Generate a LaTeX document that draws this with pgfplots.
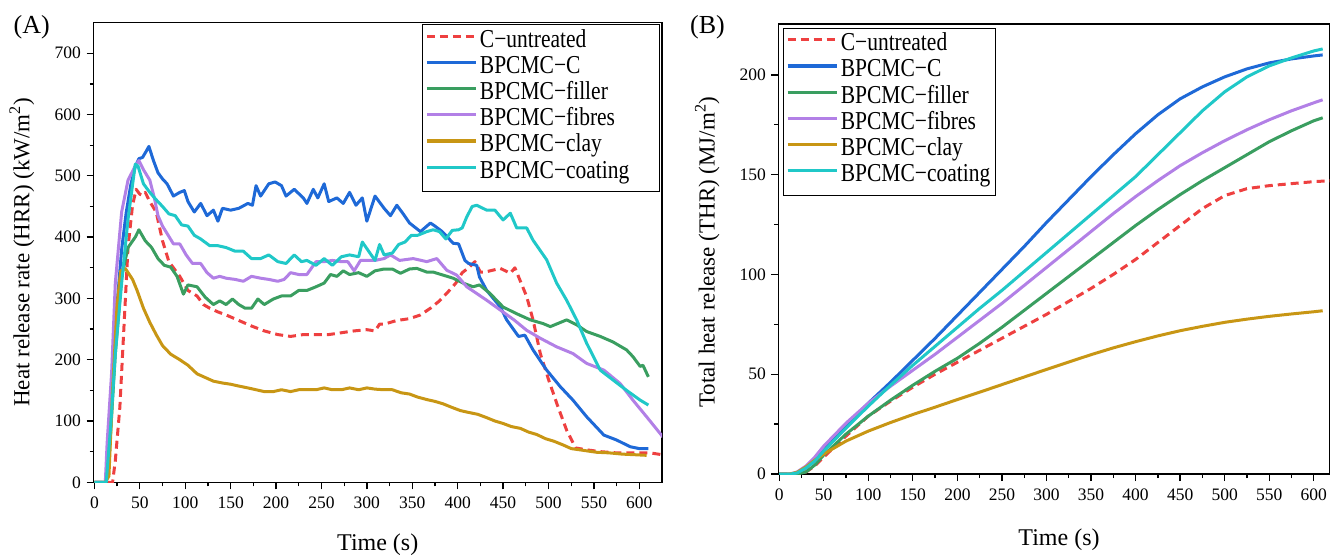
\documentclass[border=0pt]{standalone}
\usepackage{fontspec}
\setmainfont{Liberation Serif}
\usepackage{graphicx}
\usepackage{pgfplots}
\pgfplotsset{compat=1.18}

\definecolor{cRed}{RGB}{238,64,64}
\definecolor{cBlue}{RGB}{30,105,215}
\definecolor{cGreen}{RGB}{58,158,96}
\definecolor{cPurple}{RGB}{178,128,230}
\definecolor{cGold}{RGB}{200,150,20}
\definecolor{cCyan}{RGB}{32,200,200}

\newcommand\vs[1]{\scalebox{1}[1.2]{#1}}

\pgfplotsset{
  common/.style={
    scale only axis,
    axis line style={line width=1.6pt},
    tick style={line width=1.3pt, black},
    tick align=outside, xtick pos=bottom, ytick pos=left,
    major tick length=7pt, minor tick length=4pt,
    minor x tick num=1, minor y tick num=1,
    tick label style={font=\fontsize{17.5}{20}\selectfont},
    /pgf/number format/assume math mode=true,
    xtick={0,50,...,600},
    xticklabel style={yshift=-4pt},
    yticklabel style={xshift=-2pt},
    every axis plot/.append style={line width=3pt, line join=round, no marks},
    legend style={draw=black, line width=1.2pt, inner xsep=2.5pt, inner ysep=5pt,
      font=\fontsize{21.5}{24}\selectfont,
      nodes={inner ysep=0pt, inner xsep=2.5pt, text height=17.5pt, text depth=8.7pt},
      row sep=0pt},
    legend cell align=left,
    legend image code/.code={\draw[##1, line width=3.2pt] (0pt,6.5pt) -- (49pt,6.5pt);},
  },
  pred/.style={color=cRed, dash pattern=on 8pt off 5pt},
  pblue/.style={color=cBlue},
  pgreen/.style={color=cGreen},
  ppurple/.style={color=cPurple},
  pgold/.style={color=cGold},
  pcyan/.style={color=cCyan},
}

\begin{document}
\begin{tikzpicture}
\useasboundingbox (0,0) rectangle (1330pt,555pt);

\node[font=\fontsize{26}{30}\selectfont] at (31.7pt,528pt) {(A)};
\node[font=\fontsize{26}{30}\selectfont] at (707.5pt,528pt) {(B)};

% ---------------- Panel A ----------------
\begin{axis}[common,
  at={(93.5pt,72.7pt)}, anchor=south west,
  width=568.5pt, height=459.7pt,
  xmin=-1, xmax=625, ymin=0, ymax=750,
  ytick={0,100,...,700},
  xlabel={Time (s)},
  ylabel={Heat release rate (HRR) (kW/m\textsuperscript{2})},
  xlabel style={at={(axis description cs:0.5,-0.135)}, anchor=center, font=\fontsize{24}{28}\selectfont},
  ylabel style={at={(axis description cs:-0.126,0.5)}, anchor=center, font=\fontsize{23}{27}\selectfont},
  legend style={at={(axis description cs:0.9965,0.997)}, anchor=north east},
]
\addplot[pred] coordinates {(0,0)(20,0)(23,35)(28,122)(33,267)(37,383)(42,452)(46,478)(50,470)(53,468)(56,473)(61,458)(68,441)(75,394)(82,360)(94,336)(103,313)(113,304)(120,290)(127,284)(136,278)(145,273)(159,264)(173,255)(187,247)(202,241)(216,238)(230,241)(244,241)(258,241)(272,244)(286,247)(300,249)(309,247)(314,258)(319,258)(333,264)(347,267)(359,273)(370,284)(380,296)(389,310)(398,325)(405,342)(412,350)(419,360)(425,343)(430,343)(447,349)(458,341)(463,350)(476,303)(483,265)(491,210)(500,168)(510,125)(520,85)(530,56)(542,53)(557,50)(575,48)(593,48)(612,48)(625,45)};
\addlegendentry{\vs{C−untreated}}
\addplot[pblue] coordinates {(0,0)(12,0)(15,30)(20,160)(25,290)(30,380)(35,440)(40,485)(45,515)(49,528)(53,530)(57,540)(60,548)(65,525)(70,505)(75,495)(80,487)(87,467)(94,473)(99,476)(103,458)(110,441)(117,455)(124,435)(131,444)(136,426)(141,447)(150,444)(159,447)(169,455)(174,452)(178,484)(183,467)(192,487)(199,490)(206,484)(211,467)(220,478)(230,464)(234,455)(241,478)(246,464)(253,487)(258,458)(267,464)(274,455)(281,473)(288,452)(295,464)(300,426)(309,467)(319,447)(326,435)(333,452)(340,438)(347,423)(359,409)(370,423)(375,418)(383,409)(390,398)(395,390)(401,389)(408,362)(412,357)(421,354)(424,335)(432,313)(447,286)(454,265)(467,238)(474,240)(483,216)(498,183)(513,156)(527,134)(542,107)(561,77)(575,69)(590,58)(600,55)(610,55)};
\addlegendentry{\vs{BPCMC−C}}
\addplot[pgreen] coordinates {(0,0)(13,0)(16,35)(23,209)(30,336)(37,383)(45,400)(49,412)(56,394)(63,383)(70,365)(77,354)(84,351)(91,336)(98,307)(103,322)(113,319)(122,302)(131,290)(138,296)(145,290)(152,299)(159,290)(166,284)(173,284)(180,299)(187,290)(197,299)(206,304)(216,304)(225,313)(234,313)(244,319)(253,325)(260,339)(267,336)(274,345)(281,339)(291,342)(300,336)(309,345)(319,348)(328,348)(337,341)(347,348)(355,349)(366,343)(373,343)(384,338)(395,333)(406,325)(417,319)(424,322)(435,309)(450,286)(465,275)(480,265)(494,259)(502,254)(520,265)(531,257)(542,246)(557,238)(571,229)(586,216)(593,205)(601,189)(604,191)(610,172)};
\addlegendentry{\vs{BPCMC−filler}}
\addplot[ppurple] coordinates {(0,0)(12,0)(14,64)(19,180)(23,325)(30,441)(37,493)(45,516)(49,525)(54,510)(61,493)(66,464)(70,435)(75,418)(80,406)(87,389)(94,389)(101,371)(108,357)(117,357)(124,342)(131,333)(138,336)(145,333)(155,331)(164,328)(173,336)(183,333)(192,331)(202,328)(209,331)(216,342)(225,339)(234,339)(244,360)(253,360)(262,362)(272,360)(279,360)(286,345)(293,362)(300,362)(309,362)(319,365)(326,371)(336,362)(351,365)(366,360)(377,365)(388,346)(399,338)(410,319)(421,308)(432,297)(447,281)(462,265)(476,248)(491,235)(509,221)(527,210)(542,194)(561,183)(579,161)(593,134)(608,107)(626,74)};
\addlegendentry{\vs{BPCMC−fibres}}
\addplot[pgold] coordinates {(0,0)(12,0)(16,10)(20,150)(25,290)(29,345)(34,349)(42,331)(47,313)(54,284)(61,261)(68,241)(75,223)(84,209)(94,200)(103,191)(113,177)(122,171)(131,165)(141,162)(150,160)(159,157)(169,154)(178,151)(187,148)(197,148)(206,151)(216,148)(225,151)(234,151)(244,151)(253,154)(262,151)(272,151)(281,154)(291,151)(300,154)(309,152)(319,151)(328,151)(338,146)(347,144)(356,139)(366,135)(375,132)(384,128)(394,122)(403,117)(412,114)(422,111)(431,106)(441,100)(450,96)(459,91)(469,88)(478,82)(487,78)(497,71)(506,67)(516,61)(525,55)(539,52)(553,49)(567,48)(581,46)(595,45)(608,44)};
\addlegendentry{\vs{BPCMC−clay}}
\addplot[pcyan] coordinates {(0,0)(13,0)(18,93)(23,209)(30,325)(37,429)(45,519)(48,516)(54,487)(61,473)(68,461)(75,450)(82,438)(89,435)(96,420)(103,418)(110,403)(117,397)(127,386)(136,386)(145,383)(155,377)(164,377)(173,365)(183,365)(192,371)(202,360)(211,357)(220,371)(228,360)(234,362)(244,354)(253,365)(262,354)(272,368)(281,371)(291,368)(295,392)(302,377)(309,362)(314,388)(319,371)(328,374)(335,388)(342,392)(349,403)(356,403)(366,409)(373,412)(380,409)(387,397)(394,411)(401,412)(405,415)(410,433)(416,450)(421,452)(432,444)(441,444)(450,428)(458,439)(465,415)(476,415)(483,395)(498,363)(509,325)(520,297)(531,265)(542,227)(557,183)(571,167)(586,150)(601,134)(610,126)};
\addlegendentry{\vs{BPCMC−coating}\rule{25pt}{0pt}}
\end{axis}

% ---------------- Panel B ----------------
\begin{axis}[common,
  at={(778.3pt,81pt)}, anchor=south west,
  width=551.5pt, height=450pt,
  xmin=-1, xmax=618, ymin=0, ymax=225.5,
  ytick={0,50,...,200},
  xlabel={Time (s)},
  ylabel={Total heat release (THR) (MJ/m\textsuperscript{2})},
  xlabel style={at={(axis description cs:0.509,-0.147)}, anchor=center, font=\fontsize{24}{28}\selectfont},
  ylabel style={at={(axis description cs:-0.129,0.493)}, anchor=center, font=\fontsize{23}{27}\selectfont},
  legend style={at={(axis description cs:0.0085,0.992)}, anchor=north west},
]
\addplot[pred] coordinates {(0,0)(20,0)(25,0.3)(30,1)(40,4)(50,8.5)(75,19)(100,29)(125,36.5)(150,43.5)(175,50)(200,56)(225,62)(250,68)(275,74)(300,80)(325,86.5)(350,93)(375,100)(400,107.5)(425,116)(450,124.5)(475,133)(500,139.5)(525,143)(550,144.5)(575,145.5)(600,146.5)(620,147)};
\addlegendentry{\vs{C−untreated}}
\addplot[pblue] coordinates {(0,0)(13,0)(20,0.5)(30,3)(40,7)(50,12)(75,24)(100,35.5)(125,46)(150,57)(175,68)(200,79.5)(225,91)(250,102.5)(275,114)(300,126)(325,137.5)(350,149)(375,160)(400,170.5)(425,180)(450,188)(475,194)(500,199)(525,203)(550,206)(575,208)(600,209.5)(610,210)};
\addlegendentry{\vs{BPCMC−C}}
\addplot[pgreen] coordinates {(0,0)(20,0)(30,1)(40,4.5)(50,9.5)(75,20)(100,29)(125,37)(150,44.5)(175,51.5)(200,58)(225,65.5)(250,73.5)(275,82)(300,90.5)(325,99)(350,107.5)(375,116)(400,124.5)(425,132.5)(450,140)(475,147)(500,153.5)(525,160)(550,166.5)(575,172)(600,177)(610,178.5)};
\addlegendentry{\vs{BPCMC−filler}}
\addplot[ppurple] coordinates {(0,0)(12,0)(20,1)(30,4)(40,8.5)(50,14)(75,25.5)(100,35.5)(125,44)(150,52)(175,60)(200,68.5)(225,77)(250,85.5)(275,94.5)(300,103.5)(325,112.5)(350,121.5)(375,130.5)(400,139)(425,147)(450,154.5)(475,161)(500,167)(525,172.5)(550,177.5)(575,182)(600,186)(610,187.5)};
\addlegendentry{\vs{BPCMC−fibres}}
\addplot[pgold] coordinates {(0,0)(12,0)(20,0.8)(30,3.5)(40,7)(50,10)(75,16.5)(100,21.5)(125,25.8)(150,29.8)(175,33.5)(200,37.3)(225,41)(250,44.8)(275,48.6)(300,52.4)(325,56.1)(350,59.8)(375,63.2)(400,66.3)(425,69.2)(450,71.8)(475,74)(500,76)(525,77.6)(550,79)(575,80.2)(600,81.3)(610,81.8)};
\addlegendentry{\vs{BPCMC−clay}}
\addplot[pcyan] coordinates {(0,0)(13,0)(20,0.5)(30,3)(40,6.5)(50,11.5)(75,23)(100,34)(125,44.5)(150,54.5)(175,64)(200,73.5)(225,83)(250,92)(275,101.5)(300,111)(325,120.5)(350,130)(375,139.5)(400,149)(425,160)(450,171)(475,182)(500,191.5)(525,199)(550,204.5)(575,208.5)(600,212)(610,213)};
\addlegendentry{\vs{BPCMC−coating}}
\end{axis}
\end{tikzpicture}
\end{document}
